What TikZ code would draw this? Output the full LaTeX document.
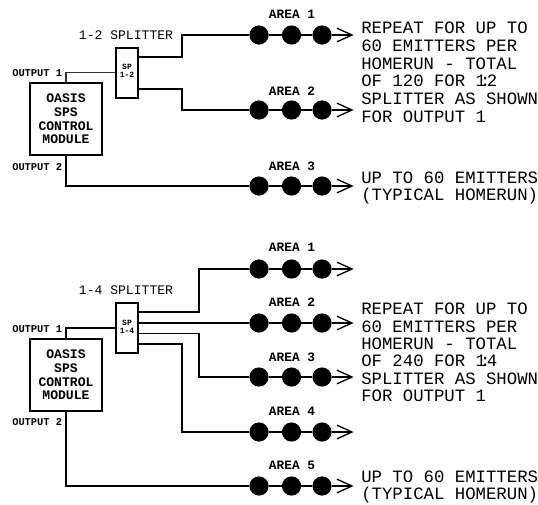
\documentclass[tikz,border=0pt]{standalone}
\usepackage{fontspec}
\setmainfont{Liberation Mono}
\newcommand{\sz}[1]{\fontsize{#1}{#1}\selectfont}
\newcommand{\wsp}{\spaceskip=0.6em\relax}
\tikzset{
  x=0.75pt,y=-0.75pt,
  wire/.style={line width=1.2pt,black},
  thinwire/.style={line width=0.9pt,black!80},
  emitter/.style={circle,fill=black,draw=none,minimum size=14.4pt,inner sep=0pt},
  run/.style={line width=1pt,black,miter limit=10},
  box/.style={draw=black,line width=1.2pt,fill=white,inner sep=0pt},
  bignote/.style={font=\sz{13pt},anchor=north west,inner sep=0pt,align=left},
  arealabel/.style={font=\bfseries\sz{9.6pt},inner sep=0pt},
  outlabel/.style={font=\bfseries\sz{7.8pt},inner sep=0pt,anchor=west},
  splitlabel/.style={font=\sz{9.8pt},inner sep=0pt},
  modlabel/.style={font=\bfseries\sz{9.8pt},inner sep=0pt,align=center},
  splabel/.style={font=\bfseries\sz{6pt},inner sep=0pt,align=center},
}
% #1 name prefix, #2 y
\newcommand{\emrow}[2]{%
  \node[emitter] (#1a) at (259,#2) {};
  \node[emitter] (#1b) at (291.5,#2) {};
  \node[emitter] (#1c) at (322,#2) {};
  \coordinate (#1t) at (352,#2);
  \coordinate (#1u) at (337,#2-6.8);
  \coordinate (#1v) at (337,#2+6.8);
  \draw[wire] (#1a) -- (#1b);
  \draw[wire] (#1b) -- (#1c);
  \draw[run] (#1c) -- (#1t);
  \draw[run] (#1u) -- (#1t) -- (#1v);
}
\newcommand{\arealab}[3]{\node[arealabel] (#1) at (292,#2) {#3};}
\begin{document}
\begin{tikzpicture}
\useasboundingbox (0,0) rectangle (538,504);
% ---------- top
\emrow{ta}{35}
\emrow{tb}{110}
\emrow{tc}{186}
\arealab{la1}{14.5}{AREA 1}
\arealab{la2}{91.5}{AREA 2}
\arealab{la3}{166}{AREA 3}
\node[box,minimum width=54pt,minimum height=54pt] (mod1) at (66,119) {};
\node[modlabel,text width=54pt] (mod1t) at (66,119) {\wsp\baselineskip=10.6pt OASIS\\SPS\\CONTROL\\MODULE};
\node[box,minimum width=16.5pt,minimum height=37.5pt] (sp1) at (127,73) {};
\node[splabel] (sp1t) at (127,71) {\baselineskip=7.4pt SP\\1-2};
\node[splitlabel] (st1) at (126,35) {1-2 SPLITTER};
\node[outlabel] (o11) at (12,73) {OUTPUT 1};
\node[outlabel] (o12) at (12,167) {OUTPUT 2};
\coordinate (k1) at (66,72.5);
\draw[thinwire] (mod1.north -| k1) -- (k1) -- (sp1.west |- k1);
\coordinate (p1) at (182,57);
\coordinate (p2) at (182,35);
\draw[wire] (sp1.east |- p1) -- (p1) -- (p2) -- (taa);
\coordinate (p3) at (182,89);
\coordinate (p4) at (182,110);
\draw[wire] (sp1.east |- p3) -- (p3) -- (p4) -- (tba);
\coordinate (p5) at (66,186);
\draw[wire] (mod1.south) -- (p5) -- (tca);
\node[bignote,text width=178pt] (n1) at (361,21.5) {\wsp\baselineskip=13.4pt REPEAT FOR UP TO\\60 EMITTERS PER\\HOMERUN - TOTAL\\OF 120 FOR 1\kern-0.35em:\kern-0.2em2\\SPLITTER AS SHOWN\\FOR OUTPUT 1};
\node[bignote,text width=178pt] (n2) at (361,171.5) {\wsp\baselineskip=13.5pt UP TO 60 EMITTERS\\(TYPICAL HOMERUN)};
% ---------- bottom
\emrow{ba}{269}
\emrow{bb}{323}
\emrow{bc}{377}
\emrow{bd}{432}
\emrow{be}{486}
\arealab{lb1}{247}{AREA 1}
\arealab{lb2}{302}{AREA 2}
\arealab{lb3}{357}{AREA 3}
\arealab{lb4}{411}{AREA 4}
\arealab{lb5}{465}{AREA 5}
\node[box,minimum width=54pt,minimum height=54pt] (mod2) at (66,375) {};
\node[modlabel,text width=54pt] (mod2t) at (66,375) {\wsp\baselineskip=10.6pt OASIS\\SPS\\CONTROL\\MODULE};
\node[box,minimum width=16.5pt,minimum height=37.5pt] (sp2) at (127,328) {};
\node[splabel] (sp2t) at (127,327) {\baselineskip=7.4pt SP\\1-4};
\node[splitlabel] (st2) at (126,290) {1-4 SPLITTER};
\node[outlabel] (o21) at (12,329) {OUTPUT 1};
\node[outlabel] (o22) at (12,422) {OUTPUT 2};
\coordinate (k2) at (66,328);
\draw[wire] (mod2.north -| k2) -- (k2) -- (sp2.west |- k2);
\coordinate (q1) at (199,312);
\coordinate (q2) at (199,269);
\draw[wire] (sp2.east |- q1) -- (q1) -- (q2) -- (baa);
\draw[wire] (sp2.east |- bba) -- (bba);
\coordinate (q3) at (199,333.5);
\coordinate (q4) at (199,377);
\draw[wire] (sp2.east |- q3) -- (q3) -- (q4) -- (bca);
\coordinate (q5) at (182,344);
\coordinate (q6) at (182,432);
\draw[wire] (sp2.east |- q5) -- (q5) -- (q6) -- (bda);
\coordinate (q7) at (66,486);
\draw[wire] (mod2.south) -- (q7) -- (bea);
\node[bignote,text width=178pt] (n3) at (361,303) {\wsp\baselineskip=13pt REPEAT FOR UP TO\\60 EMITTERS PER\\HOMERUN - TOTAL\\OF 240 FOR 1\kern-0.35em:\kern-0.2em4\\SPLITTER AS SHOWN\\FOR OUTPUT 1};
\node[bignote,text width=178pt] (n4) at (361,470.5) {\wsp\baselineskip=13.5pt UP TO 60 EMITTERS\\(TYPICAL HOMERUN)};
\end{tikzpicture}
\end{document}
